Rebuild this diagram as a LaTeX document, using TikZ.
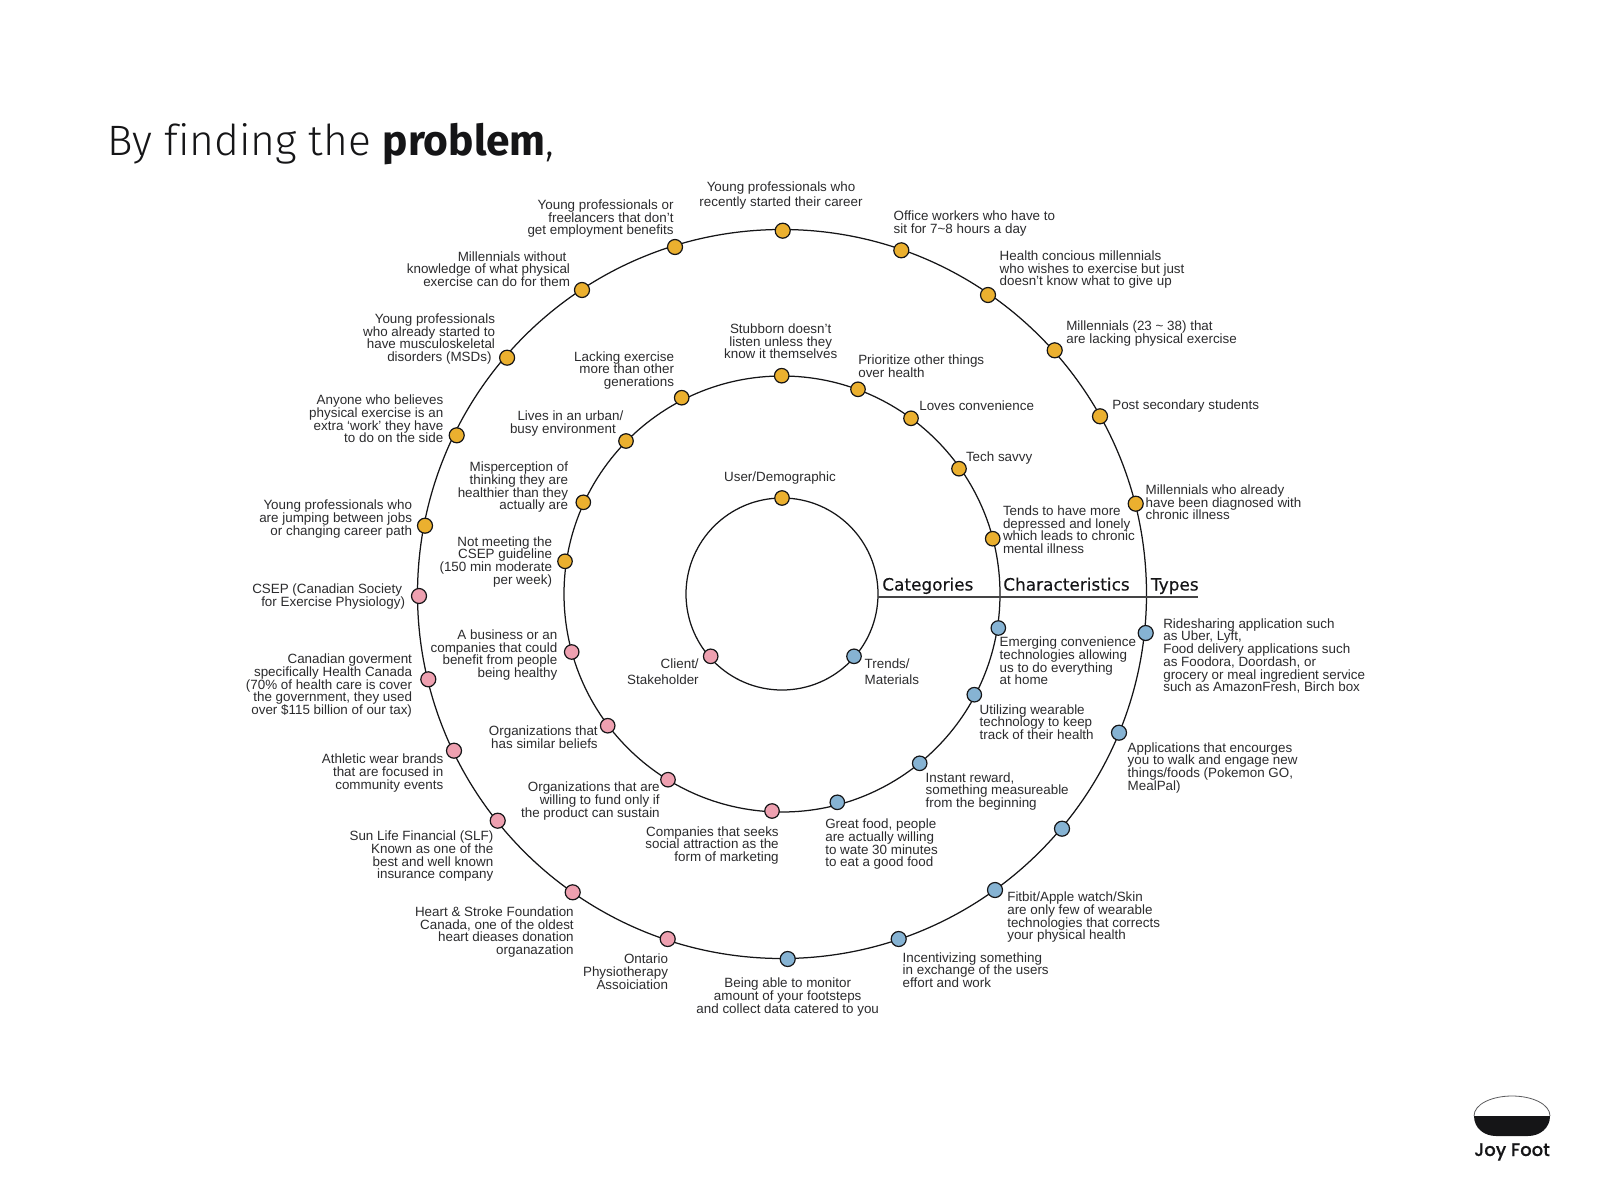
\documentclass[tikz,border=0pt]{standalone}
\usepackage{fontspec}
\setmainfont{Liberation Sans}
\newfontfamily\ttlight{Fira Sans Light}
\newfontfamily\ttbold{Fira Sans}
\newfontfamily\headf{DejaVu Sans}[FakeBold=0.35]
\newfontfamily\logof{Poppins Medium}[FakeBold=0.3]
\definecolor{yel}{HTML}{EBB02F}
\definecolor{pnk}{HTML}{EEA0B0}
\definecolor{blu}{HTML}{86B3D3}
\definecolor{ink}{HTML}{151517}
\definecolor{txt}{HTML}{2B2B2D}
\tikzset{
  ring/.style={draw=ink,line width=1.25pt},
  dotbase/.style={circle,draw=ink,line width=1.2pt,inner sep=0pt,minimum size=15pt},
  dotmid/.style={dotbase,minimum size=14.5pt},
  yd/.style={dotbase,fill=yel}, pd/.style={dotbase,fill=pnk}, bd/.style={dotbase,fill=blu},
  ym/.style={dotmid,fill=yel}, pm/.style={dotmid,fill=pnk}, bm/.style={dotmid,fill=blu},
  lab/.style={inner sep=0pt,outer sep=0pt,text=txt,font=\fontsize{13.4}{12.7}\selectfont},
  head/.style={inner sep=0pt,outer sep=0pt,anchor=base west,text=ink,font=\headf\fontsize{16.9}{20}\selectfont},
}
\newcommand\labR[4]{\node[lab,anchor=north east,align=right] (#1) at (#2,#3-5.5) {\rule{0pt}{10pt}#4};}
\newcommand\labL[4]{\node[lab,anchor=north west,align=left] (#1) at (#2,#3-5.5) {\rule{0pt}{10pt}#4};}
\newcommand\labC[4]{\node[lab,anchor=north,align=center] (#1) at (#2,#3-5.5) {\rule{0pt}{10pt}#4};}
\begin{document}
\begin{tikzpicture}[x=1pt,y=-1pt]
\useasboundingbox (0,0) rectangle (1603,1199);
\coordinate (c) at (782,594);
\draw[ring] (c) circle[radius=96pt];
\draw[ring] (c) circle[radius=218pt];
\draw[ring] (c) circle[radius=364.5pt];
\coordinate (axisL) at (878,597);
\coordinate (axisR) at (1198,597);
\draw[draw=ink!80,line width=1.6pt] (axisL) -- (axisR);
% title
\node[inner sep=0pt,anchor=base west,text=ink] (title) at (107,155) {\fontsize{42.5}{46}\selectfont{\ttlight By f\kern0pt inding the }{\ttbold\bfseries problem}{\ttlight ,}};
% heads
\node[head] (hcat) at (882.3,590.5) {Categories};
\node[head] (hchar) at (1003.3,590.5) {Characteristics};
\node[head] (htyp) at (1151,590.5) {Types};
% inner dots
\node[ym] (i1) at (782,498) {};
\node[pm] (i2) at (710.7,656.3) {};
\node[bm] (i3) at (854,656.3) {};
% mid dots
\node[ym] (m1) at (781.7,375.7) {};
\node[ym] (m2) at (858,389.3) {};
\node[ym] (m3) at (911,418.3) {};
\node[ym] (m4) at (959,468.7) {};
\node[ym] (m5) at (992.7,538.7) {};
\node[bm] (m6) at (998.3,628) {};
\node[bm] (m7) at (974.3,694.7) {};
\node[bm] (m8) at (919.7,763.3) {};
\node[bm] (m9) at (837.3,802.3) {};
\node[pm] (m10) at (772,811) {};
\node[pm] (m11) at (668,779.7) {};
\node[pm] (m12) at (607.7,725.7) {};
\node[pm] (m13) at (571.7,652) {};
\node[ym] (m14) at (565,561.3) {};
\node[ym] (m15) at (583.3,502.3) {};
\node[ym] (m16) at (626,441) {};
\node[ym] (m17) at (681.7,397.7) {};
% outer dots
\node[yd] (o1) at (782.7,230.7) {};
\node[yd] (o2) at (901.3,250.3) {};
\node[yd] (o3) at (988,295) {};
\node[yd] (o4) at (1054.7,350.3) {};
\node[yd] (o5) at (1100,416.3) {};
\node[yd] (o6) at (1135.7,503.7) {};
\node[bd] (o7) at (1145.7,633) {};
\node[bd] (o8) at (1119,732.7) {};
\node[bd] (o9) at (1062,828.7) {};
\node[bd] (o10) at (995,890) {};
\node[bd] (o11) at (898.7,939) {};
\node[bd] (o12) at (787.7,959) {};
\node[pd] (o13) at (667.7,939) {};
\node[pd] (o14) at (572.7,892.3) {};
\node[pd] (o15) at (497.7,820.7) {};
\node[pd] (o16) at (454,750.7) {};
\node[pd] (o17) at (428.3,679.3) {};
\node[pd] (o18) at (419,596) {};
\node[yd] (o19) at (425,525.7) {};
\node[yd] (o20) at (456.7,435.3) {};
\node[yd] (o21) at (507.1,357.7) {};
\node[yd] (o22) at (582,290) {};
\node[yd] (o23) at (675,247) {};
% labels: inner
\labC{tUser}{780}{477.3}{User/Demographic}
\labR{tClient}{698.7}{664}{Client/\\[3pt]Stakeholder}
\labL{tTrends}{864.7}{664}{Trends/\\[3pt]Materials}
% labels: middle
\labC{tStub}{780.7}{329}{Stubborn doesn’t\\listen unless they\\know it themselves}
\labL{tPrior}{858.3}{360}{Prioritize other things\\over health}
\labL{tLoves}{919.3}{406.3}{Loves convenience}
\labL{tTech}{966}{456.7}{Tech savvy}
\labL{tTends}{1003}{511}{Tends to have more\\depressed and lonely\\which leads to chronic\\mental illness}
\labL{tEmerg}{999.7}{642.3}{Emerging convenience\\technologies allowing\\us to do everything\\at home}
\labL{tUtil}{979.7}{709.7}{Utilizing wearable\\technology to keep\\track of their health}
\labL{tInst}{925.7}{777.7}{Instant reward,\\something measureable\\from the beginning}
\labL{tGreat}{825.3}{824.3}{Great food, people\\are actually willing\\to wate 30 minutes\\to eat a good food}
\labR{tComp}{778.7}{831.7}{Companies that seeks\\social attraction as the\hspace*{3pt}\\form of marketing}
\labR{tFund}{659.7}{787.3}{Organizations that are\\willing to fund only if\\the product can sustain}
\labR{tSim}{597.7}{731}{Organizations that\\has similar beliefs}
\labR{tBus}{557.3}{635}{A business or an\\companies that could\\benefit from people\\being healthy}
\labR{tMeet}{552}{541.7}{Not meeting the\\CSEP guideline\hspace*{3.5pt}\\(150 min moderate\\per week)}
\labR{tMisp}{568}{467.3}{Misperception of\\thinking they are\\healthier than they\\actually are}
\labR{tLives}{623.3}{416}{Lives in an urban/\\busy environment\hspace*{7.5pt}}
\labR{tLack}{674}{356.7}{Lacking exercise\\more than other\hspace*{3pt}\\generations}
% labels: outer
\labC{tYoung}{781}{187.3}{Young professionals who\\[2pt]recently started their career}
\labL{tOffice}{893.7}{216}{Office workers who have to\\sit for 7\textasciitilde8 hours a day}
\labL{tHealth}{999.7}{256}{Health concious millennials\\who wishes to exercise but just\\doesn’t know what to give up}
\labL{tMill}{1066.3}{326}{Millennials (23 \textasciitilde{} 38) that\\are lacking physical exercise}
\labL{tPost}{1112.3}{405.3}{Post secondary students}
\labL{tDiag}{1145.7}{490}{Millennials who already\\have been diagnosed with\\chronic illness}
\labL{tRide}{1163.3}{623.7}{Ridesharing application such\\as Uber, Lyft,\\Food delivery applications such\\as Foodora, Doordash, or\\grocery or meal ingredient service\\such as AmazonFresh, Birch box}
\labL{tApps}{1127.7}{747.7}{Applications that encourges\\you to walk and engage new\\things/foods (Pokemon GO,\\MealPal)}
\labL{tFit}{1007.3}{897.3}{Fitbit/Apple watch/Skin\\are only few of wearable\\technologies that corrects\\your physical health}
\labL{tInc}{902.7}{957.7}{Incentivizing something\\in exchange of the users\\effort and work}
\labC{tBeing}{787.7}{983.3}{Being able to monitor\\amount of your footsteps\\and collect data catered to you}
\labR{tOnt}{668}{959.3}{Ontario\\Physiotherapy\\Assoiciation}
\labR{tHeart}{573.7}{912}{Heart \& Stroke Foundation\\Canada, one of the oldest\\heart dieases donation\\organazation}
\labR{tSun}{493.3}{836.3}{Sun Life Financial (SLF)\\Known as one of the\\best and well known\\insurance company}
\labR{tAth}{443.3}{759.3}{Athletic wear brands\\that are focused in\\community events}
\labR{tCan}{412}{659.3}{Canadian goverment\\specifically Health Canada\\(70\% of health care is cover\\the government, they used\\over \$115 billion of our tax)}
\labR{tCSEP}{405}{589.3}{CSEP (Canadian Society\hspace*{3pt}\\for Exercise Physiology)}
\labR{tJump}{412}{505.3}{Young professionals who\\are jumping between jobs\\or changing career path}
\labR{tAny}{443.3}{400.3}{Anyone who believes\\physical exercise is an\\extra ‘work’ they have\hspace*{3pt}\\to do on the side}
\labR{tMSD}{495}{319}{Young professionals\\who already started to\\have musculoskeletal\hspace*{3.5pt}\\disorders (MSDs)\hspace*{3.5pt}}
\labR{tMwk}{570}{256.7}{Millennials without\hspace*{3.5pt}\\knowledge of what physical\hspace*{3.5pt}\\exercise can do for them}
\labR{tFree}{673.5}{205}{Young professionals or\\freelancers that don’t\hspace*{4pt}\\get employment benefits}
% logo
\fill[ink] (1474,1116) -- (1550,1116) .. controls (1550,1128) and (1540,1136) .. (1528,1136) -- (1496,1136) .. controls (1484,1136) and (1474,1128) .. (1474,1116) -- cycle;
\draw[ink!70,line width=0.8pt] (1474,1116) .. controls (1474,1104) and (1492,1096) .. (1512,1096) .. controls (1532,1096) and (1550,1104) .. (1550,1116);
\node[inner sep=0pt,anchor=base,text=ink] (logo) at (1512,1156) {\logof\fontsize{18}{20}\selectfont Joy Foot};
\end{tikzpicture}
\end{document}
